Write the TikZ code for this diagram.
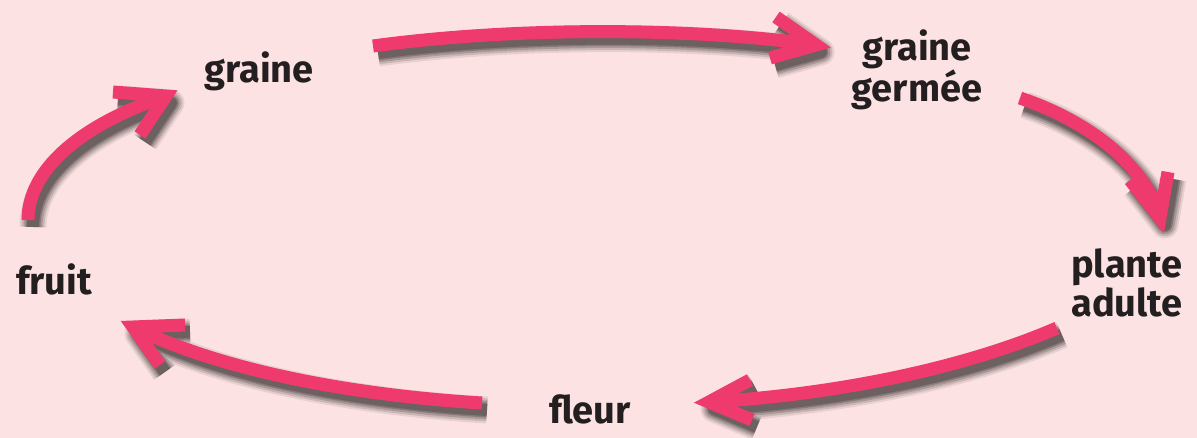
\documentclass[tikz,border=0pt]{standalone}
\usepackage{fontspec}
\setmainfont{Fira Sans}
\definecolor{bgpink}{RGB}{252,226,226}
\definecolor{arrpink}{RGB}{238,58,108}
\definecolor{txt}{RGB}{35,31,32}
\newcommand\pinkarrow[1]{%
  \begin{scope}[transform canvas={shift={(5,7)}}]
  \foreach \w/\o in {27/0.08,23/0.12,19/0.16,15/0.2,12/0.2}{%
    \draw[line width=\w pt,draw=black,opacity=\o,line join=round] #1;}%
  \end{scope}
  \draw[arrline] #1;}
\begin{document}
\begin{tikzpicture}[x=1pt,y=-1pt,
  arrline/.style={draw=arrpink,line width=13pt,line join=miter,miter limit=10},
  lbl/.style={font=\fontsize{38}{36}\selectfont\bfseries,text=txt,inner sep=0pt,align=center}]
\path[fill=bgpink] (0,0) rectangle (1197,438);
\useasboundingbox (0,0) rectangle (1197,438);
% labels
\node[lbl,anchor=base] (gr) at (259,83) {graine};
\node[lbl] (gg) at (917,70) {graine\\germée};
\node[lbl] (pa) at (1127,283) {plante\\adulte};
\node[lbl,anchor=base] (fl) at (590,423) {fleur};
\node[lbl,anchor=base] (fr) at (54,295) {fruit};
% arrow coordinates
\coordinate (a1s) at (373,46);  \coordinate (a1t) at (816,45);
\coordinate (a1u) at (776,17);  \coordinate (a1d) at (770,58);
\coordinate (a2s) at (1020,98); \coordinate (a2t) at (1160,218);
\coordinate (a2u) at (1168,172);\coordinate (a2d) at (1130,180);
\coordinate (a3s) at (1057,328);\coordinate (a3t) at (709,402);
\coordinate (a3u) at (750,380); \coordinate (a3d) at (752,420);
\coordinate (a4s) at (482,403); \coordinate (a4t) at (133,327);
\coordinate (a4u) at (185,325); \coordinate (a4d) at (160,365);
\coordinate (a5s) at (28,220);  \coordinate (a5t) at (166,96);
\coordinate (a5u) at (113,92);  \coordinate (a5d) at (140,135);
\pinkarrow{(a1s) .. controls (520,26) and (700,28) .. (a1t) (a1u) -- (a1t) -- (a1d)}
\pinkarrow{(a2s) .. controls (1090,122) and (1145,165) .. (a2t) (a2u) -- (a2t) -- (a2d)}
\pinkarrow{(a3s) .. controls (960,370) and (830,395) .. (a3t) (a3u) -- (a3t) -- (a3d)}
\pinkarrow{(a4s) .. controls (350,395) and (220,370) .. (a4t) (a4u) -- (a4t) -- (a4d)}
\pinkarrow{(a5s) .. controls (28,170) and (80,125) .. (a5t) (a5u) -- (a5t) -- (a5d)}
\end{tikzpicture}
\end{document}
